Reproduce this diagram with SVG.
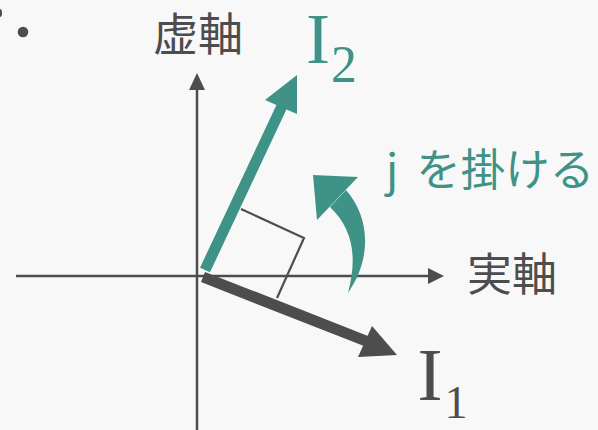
<svg xmlns="http://www.w3.org/2000/svg" width="598" height="430" viewBox="0 0 598 430">
<style>
.ax{stroke:#4d4d4d;stroke-width:2.5;fill:none}
.dk{fill:#4d4d4d}
.tl{fill:#3f9386}
.cjk{font-family:"Noto Sans CJK JP","Noto Sans",sans-serif}
.ser{font-family:"Liberation Serif","DejaVu Serif",serif}
</style>
<rect width="598" height="430" fill="#f8f8f8"/>
<g id="bullet">
<ellipse cx="0" cy="13" rx="2" ry="4" class="dk"/>
<circle cx="23" cy="32" r="5.3" class="dk"/>
</g>
<g id="connectors">
<g id="axis-x">
<line x1="16" y1="276" x2="430" y2="276" class="ax"/>
<polygon points="444,276 428,268 428,284" class="dk"/>
</g>
<g id="axis-y">
<line x1="197" y1="430" x2="197" y2="88" class="ax"/>
<polygon points="197,73 189,90 205,90" class="dk"/>
</g>
<polyline id="right-angle" points="241,209 304,238 277,298" fill="none" stroke="#4d4d4d" stroke-width="2.2"/>
<g id="I1-arrow">
<line x1="203" y1="277" x2="366" y2="341" stroke="#4d4d4d" stroke-width="11"/>
<polygon points="397,355 372,326 358,357" class="dk"/>
</g>
<g id="I2-arrow">
<line x1="205" y1="270" x2="282" y2="106" stroke="#3f9386" stroke-width="11"/>
<polygon points="297,75 265,100 297,114" class="tl"/>
</g>
<g id="rotate-arrow">
<path d="M346,190 C368,215 374,255 348,293 C358,255 352,228 330,207 Z" class="tl"/>
<polygon points="313,175 358,177 317,220" class="tl"/>
</g>
</g>
<g id="label-imag"><text x="198" y="51" font-size="45" text-anchor="middle" class="cjk" fill="#4d4d4d">虚軸</text></g>
<g id="label-real"><text x="512" y="291" font-size="45" text-anchor="middle" class="cjk" fill="#4d4d4d">実軸</text></g>
<g id="label-j"><text x="386" y="186" font-size="44.5" word-spacing="8" class="cjk" fill="#3f9386">j を掛ける</text></g>
<g id="label-I2">
<text x="318" y="63" font-size="72" text-anchor="middle" class="ser" fill="#3f9386">I</text>
<text x="344" y="82" font-size="52" text-anchor="middle" class="ser" fill="#3f9386">2</text>
</g>
<g id="label-I1">
<text x="430" y="400" font-size="75" text-anchor="middle" class="ser" fill="#4d4d4d">I</text>
<text x="456" y="418" font-size="46" text-anchor="middle" class="ser" fill="#4d4d4d">1</text>
</g>
</svg>
